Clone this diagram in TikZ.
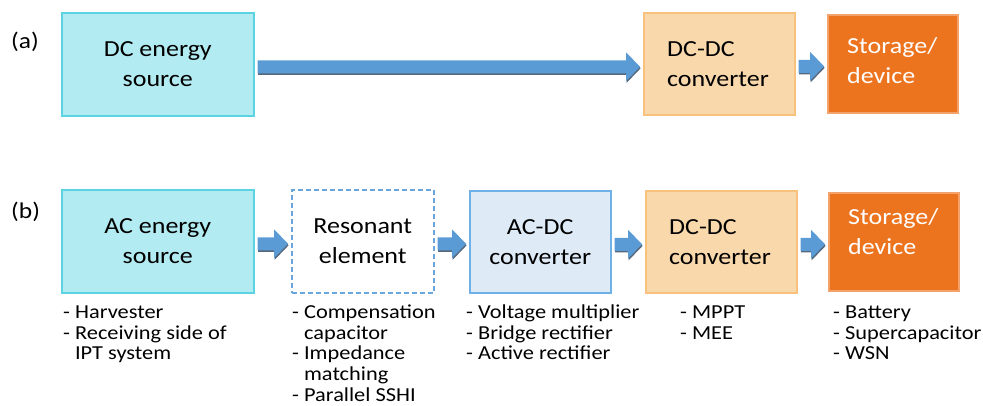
\documentclass[tikz,border=0pt]{standalone}
\usepackage{fontspec}
\setmainfont{Carlito}[FakeStretch=1.13]
\usetikzlibrary{calc}

\definecolor{srcfill}{HTML}{B3EBF2}
\definecolor{srcline}{HTML}{5CD3E3}
\definecolor{convfill}{HTML}{F9D8AB}
\definecolor{convline}{HTML}{F8C27E}
\definecolor{storfill}{HTML}{ED741F}
\definecolor{storline}{HTML}{F3A26B}
\definecolor{acdcfill}{HTML}{DEEBF7}
\definecolor{acdcline}{HTML}{6FB0E6}
\definecolor{resline}{HTML}{6AA6DE}
\definecolor{flow}{HTML}{5B9BD5}
\definecolor{flowshade}{HTML}{55687C}

\newcommand\boxfont{\fontsize{23}{30}\selectfont}
\newcommand\notefont{\fontsize{19.8}{20.8}\selectfont}

% block arrow from node #1 to node #2, shifted down by #3
\newcommand\flowarrow[3]{%
  \path ($(#1.east)+(3,#3)$) coordinate (fs)
        ($(#2.west)+(-3,0)$) coordinate (fe0)
        (fe0 |- fs) coordinate (fe);
  \foreach \dx/\dy/\col in {0.6/1.6/flowshade, 0/0/flow}{
    \fill[\col] ($(fs)+(\dx,\dy)$) ++(0,-6.5) -- ($(fe)+(\dx-14,\dy-6.5)$)
      -- ($(fe)+(\dx-14,\dy-14.5)$) -- ($(fe)+(\dx,\dy)$)
      -- ($(fe)+(\dx-14,\dy+14.5)$) -- ($(fe)+(\dx-14,\dy+6.5)$)
      -- ($(fs)+(\dx,\dy+6.5)$) -- cycle;
  }%
}

\tikzset{
  blk/.style={rectangle, inner sep=0pt, line width=1.5pt, anchor=north west,
    align=center, font=\boxfont, text=black},
  srcbox/.style={blk, draw=srcline, fill=srcfill},
  convbox/.style={blk, draw=convline, fill=convfill},
  storbox/.style={blk, draw=storline, fill=storfill},
  acdcbox/.style={blk, draw=acdcline, fill=acdcfill},
  resbox/.style={blk, draw=resline, fill=white, dash pattern=on 5pt off 3pt, line width=1.5pt},
  intext/.style={anchor=west, align=left, inner sep=0pt, font=\boxfont},
  note/.style={anchor=north west, align=left, inner sep=0pt, font=\notefont},
  tag/.style={anchor=base west, inner sep=0pt, font=\fontsize{22.5}{26}\selectfont},
}

\begin{document}
\begin{tikzpicture}[x=1pt, y=-1pt]
\useasboundingbox (0,0) rectangle (983,405);

% ---- (a) DC source chain
\node[tag] (taga) at (11,48) {(a)};
\node[srcbox, minimum width=192pt, minimum height=103pt] (dcsrc) at (61,12) {DC energy\\source};
\node[convbox, minimum width=151pt, minimum height=102pt] (dcdcA) at (643,12) {};
\node[intext] (dcdcAt) at ($(dcdcA.west)+(24,0)$) {DC-DC\\converter};
\node[storbox, minimum width=130pt, minimum height=98pt] (storA) at (827,14) {};
\node[intext, text=white] (storAt) at ($(storA.west)+(20,-3)$) {Storage/\\device};

\flowarrow{dcsrc}{dcdcA}{2.5}
\flowarrow{dcdcA}{storA}{2.5}

% ---- (b) AC source chain
\node[tag] (tagb) at (11,218) {(b)};
\node[srcbox, minimum width=192pt, minimum height=103pt] (acsrc) at (61,189) {AC energy\\source};
\node[resbox, minimum width=142pt, minimum height=103pt] (res) at (291,189) {Resonant\\element};
\node[acdcbox, minimum width=141pt, minimum height=102pt] (acdc) at (469,190) {AC-DC\\converter};
\node[convbox, minimum width=151pt, minimum height=102pt] (dcdcB) at (645,190) {};
\node[intext] (dcdcBt) at ($(dcdcB.west)+(24,0)$) {DC-DC\\converter};
\node[storbox, minimum width=130pt, minimum height=98pt] (storB) at (828,192) {};
\node[intext, text=white] (storBt) at ($(storB.west)+(20,-10)$) {Storage/\\device};

\flowarrow{acsrc}{res}{2.5}
\flowarrow{res}{acdc}{2.5}
\flowarrow{acdc}{dcdcB}{2.5}
\flowarrow{dcdcB}{storB}{2.5}

% ---- notes under each block
\node[note] (nacsrc) at (63,303.5) {\strut- Harvester\\- Receiving side of\\\hphantom{- }IPT system};
\node[note] (nres) at (292,303.5) {\strut- Compensation\\\hphantom{- }capacitor\\- Impedance\\\hphantom{- }matching\\- Parallel SSHI};
\node[note] (nacdc) at (466,303.5) {\strut- Voltage multiplier\\- Bridge rectifier\\- Active rectifier};
\node[note] (ndcdc) at (680,303.5) {\strut- MPPT\\- MEE};
\node[note] (nstor) at (833,303.5) {\strut- Battery\\- Supercapacitor\\- WSN};
\end{tikzpicture}
\end{document}
